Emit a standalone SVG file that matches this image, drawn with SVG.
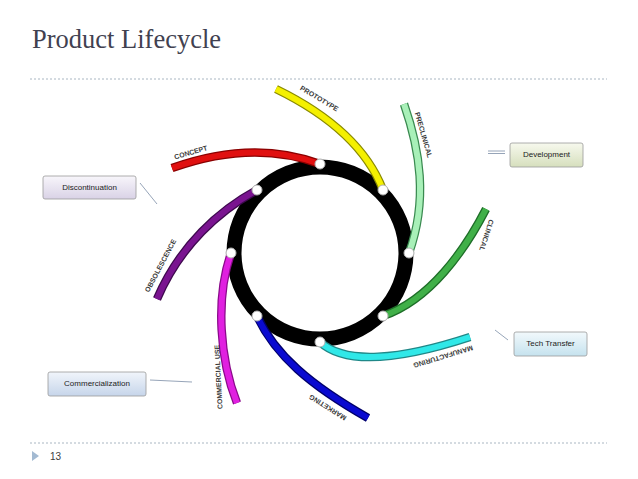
<svg xmlns="http://www.w3.org/2000/svg" width="638" height="479" viewBox="0 0 638 479">
<defs>
<style>
.title{font-family:"Liberation Serif",serif;font-size:26.5px;fill:#414150}
.rule{stroke:#a9b6c2;stroke-width:1;stroke-dasharray:2,2}
.outl{fill:none;stroke-width:8.5;stroke-linecap:butt}
.arm{fill:none;stroke-width:6;stroke-linecap:butt}
.lbl{font-family:"Liberation Sans",Arial,sans-serif;font-size:7px;font-weight:bold;fill:#3a3a3a;text-anchor:middle;dominant-baseline:middle}
.node{fill:#ffffff;stroke:#b0b0b0;stroke-width:1}
.box{stroke:#9a9a9a;stroke-width:0.8}
.btxt{font-family:"Liberation Sans",Arial,sans-serif;font-size:8px;fill:#222;text-anchor:middle;dominant-baseline:middle}
.conn{stroke:#8a9ab0;stroke-width:0.9;fill:none}
</style>
<linearGradient id="gDev" x1="0" y1="0" x2="0" y2="1"><stop offset="0" stop-color="#f7f9ee"/><stop offset="1" stop-color="#d6dfbd"/></linearGradient>
<linearGradient id="gTech" x1="0" y1="0" x2="0" y2="1"><stop offset="0" stop-color="#f2f9fc"/><stop offset="1" stop-color="#c5e2ee"/></linearGradient>
<linearGradient id="gDis" x1="0" y1="0" x2="0" y2="1"><stop offset="0" stop-color="#f8f6fb"/><stop offset="1" stop-color="#d9d2e6"/></linearGradient>
<linearGradient id="gCom" x1="0" y1="0" x2="0" y2="1"><stop offset="0" stop-color="#f1f5fb"/><stop offset="1" stop-color="#c6d5ea"/></linearGradient>
</defs>
<rect width="638" height="479" fill="#ffffff"/>
<text class="title" x="32" y="48">Product Lifecycle</text>
<line class="rule" x1="30" y1="79" x2="607" y2="79"/>
<line class="rule" x1="30" y1="443" x2="607" y2="443"/>
<polygon points="32,451 39,456 32,461" fill="#a3bad2"/>
<text x="50" y="460" font-family="Liberation Sans, Arial, sans-serif" font-size="10" fill="#404040">13</text>

<g id="ring"><circle cx="320" cy="253" r="86" fill="none" stroke="#000" stroke-width="15"/></g>

<g id="connectors">
<line class="conn" x1="488" y1="151" x2="505" y2="151"/>
<line class="conn" x1="488" y1="153.5" x2="505" y2="153.5"/>
<line class="conn" x1="495" y1="330" x2="508" y2="340"/>
<line class="conn" x1="140" y1="183" x2="157" y2="204"/>
<line class="conn" x1="150" y1="380" x2="192" y2="382"/>
</g>

<g id="concept">
<path class="outl" stroke="#8a0000" d="M172,168 Q253,139 320,164"/>
<path class="arm" stroke="#e01010" d="M172,168 Q253,139 320,164"/>
<circle class="node" cx="320" cy="164" r="5"/>
<text class="lbl" transform="translate(191,153) rotate(-16)">CONCEPT</text>
</g>
<g id="prototype">
<path class="outl" stroke="#8a8a00" d="M276,89 Q360,130 383,190"/>
<path class="arm" stroke="#f4f000" d="M276,89 Q360,130 383,190"/>
<circle class="node" cx="383" cy="190" r="5"/>
<text class="lbl" transform="translate(319,99) rotate(31)">PROTOTYPE</text>
</g>
<g id="preclinical">
<path class="outl" stroke="#3a8a50" d="M404,104 C420,150 428,200 409,253"/>
<path class="arm" stroke="#a8f0b8" d="M404,104 C420,150 428,200 409,253"/>
<circle class="node" cx="409" cy="253" r="5"/>
<text class="lbl" transform="translate(423,135) rotate(74)">PRECLINICAL</text>
</g>
<g id="clinical">
<path class="outl" stroke="#1e6e28" d="M486,209 C465,250 430,300 383,316"/>
<path class="arm" stroke="#40b048" d="M486,209 C465,250 430,300 383,316"/>
<circle class="node" cx="383" cy="316" r="5"/>
<text class="lbl" transform="translate(486,235) rotate(108)">CLINICAL</text>
</g>
<g id="manufacturing">
<path class="outl" stroke="#208888" d="M320,342 C345,365 400,360 470,337"/>
<path class="arm" stroke="#30e8e8" d="M320,342 C345,365 400,360 470,337"/>
<circle class="node" cx="320" cy="342" r="5"/>
<text class="lbl" transform="translate(443,356) rotate(163)">MANUFACTURING</text>
</g>
<g id="marketing">
<path class="outl" stroke="#00006a" d="M257,316 C275,355 310,385 368,418"/>
<path class="arm" stroke="#0a0ad0" d="M257,316 C275,355 310,385 368,418"/>
<circle class="node" cx="257" cy="316" r="5"/>
<text class="lbl" transform="translate(328,407) rotate(212)">MARKETING</text>
</g>
<g id="commercial-use">
<path class="outl" stroke="#8a0a8a" d="M231,253 C215,300 220,360 237,403"/>
<path class="arm" stroke="#e020e0" d="M231,253 C215,300 220,360 237,403"/>
<circle class="node" cx="231" cy="253" r="5"/>
<text class="lbl" transform="translate(219,377) rotate(-93)">COMMERCIAL USE</text>
</g>
<g id="obsolescence">
<path class="outl" stroke="#3e0a4e" d="M257,190 C220,210 180,245 157,299"/>
<path class="arm" stroke="#7a1490" d="M257,190 C220,210 180,245 157,299"/>
<circle class="node" cx="257" cy="190" r="5"/>
<text class="lbl" transform="translate(161,266) rotate(-62)">OBSOLESCENCE</text>
</g>

<g id="development">
<rect class="box" x="510" y="143" width="73" height="24" rx="2" fill="url(#gDev)"/>
<text class="btxt" x="546.5" y="155">Development</text>
</g>
<g id="tech-transfer">
<rect class="box" x="514" y="332" width="73" height="24" rx="2" fill="url(#gTech)"/>
<text class="btxt" x="550.5" y="344">Tech Transfer</text>
</g>
<g id="discontinuation">
<rect class="box" x="43" y="176" width="93" height="23" rx="2" fill="url(#gDis)"/>
<text class="btxt" x="89.5" y="187.5">Discontinuation</text>
</g>
<g id="commercialization">
<rect class="box" x="48" y="372" width="98" height="24" rx="2" fill="url(#gCom)"/>
<text class="btxt" x="97" y="384">Commercialization</text>
</g>
</svg>
